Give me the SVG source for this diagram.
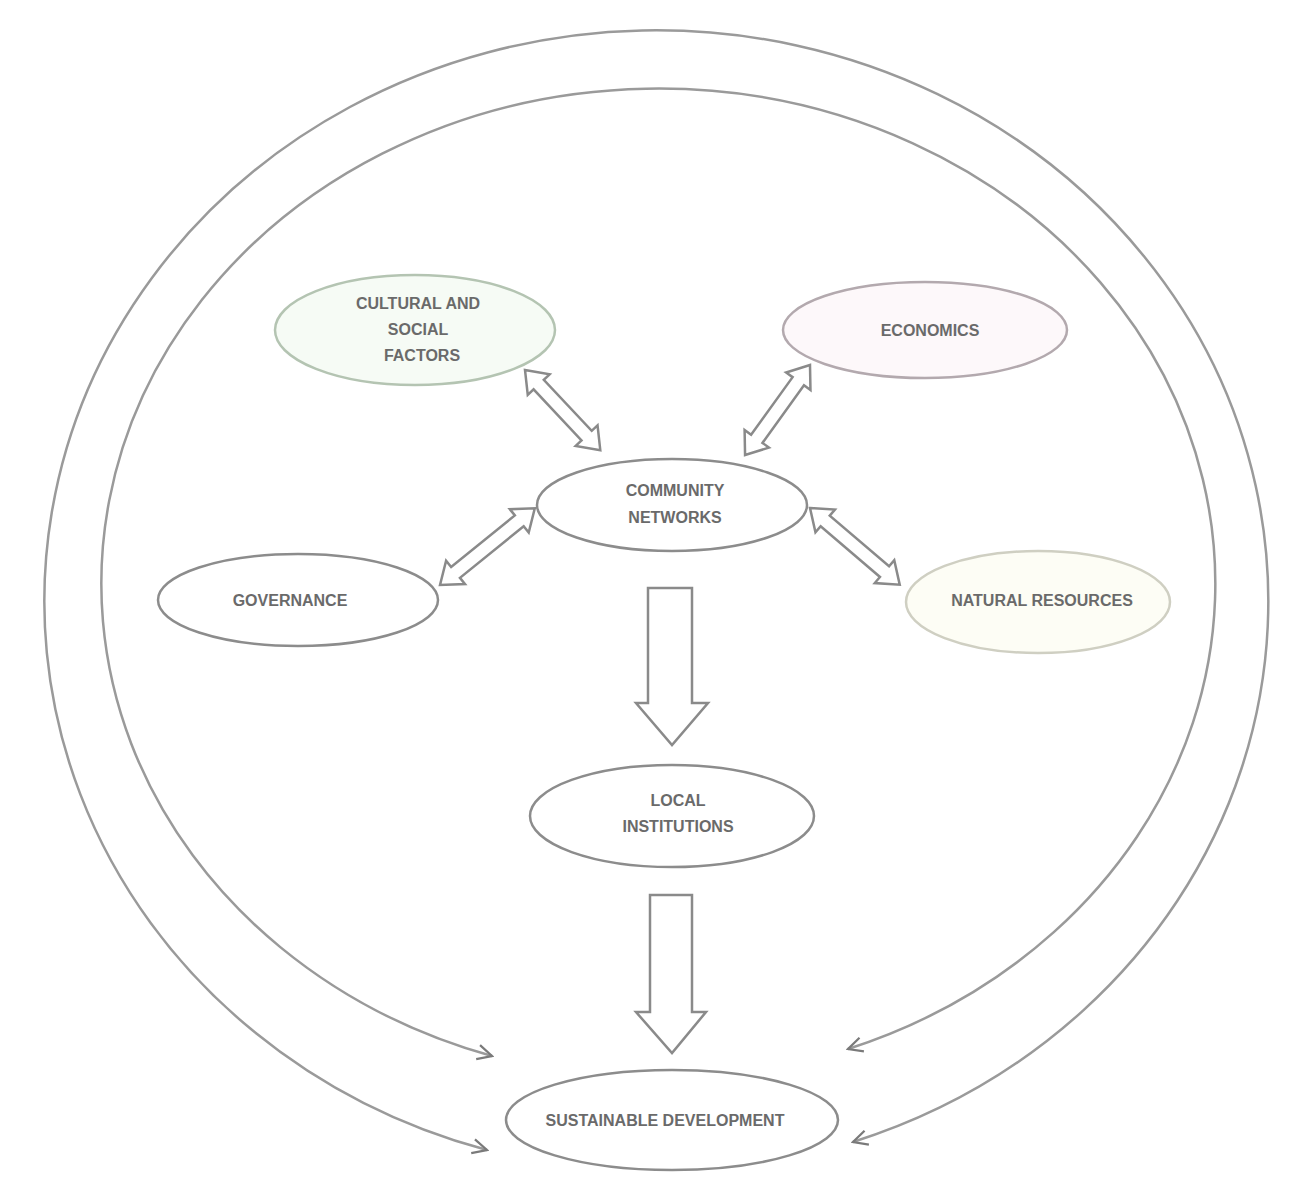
<svg xmlns="http://www.w3.org/2000/svg" width="1302" height="1189" viewBox="0 0 1302 1189">
<style>
.node{fill:#fff;stroke:#8c8c8c;stroke-width:2.5}
.lbl{font-family:"Liberation Sans",Arial,sans-serif;font-size:16px;font-weight:bold;fill:#6a6a6a;text-anchor:middle}
.ring{fill:none;stroke:#9a9a9a;stroke-width:2.5}
.block{fill:#fff;stroke:#8a8a8a;stroke-width:2.5;stroke-linejoin:miter}
</style>
<defs>
<marker id="open" viewBox="0 0 20 20" refX="18" refY="10" markerWidth="18" markerHeight="18" markerUnits="userSpaceOnUse" orient="auto-start-reverse">
<path d="M2,2 L18,10 L2,18" fill="none" stroke="#7a7a7a" stroke-width="2.5"/>
</marker>
</defs>
<rect width="1302" height="1189" fill="#fff"/>
<g id="connectors">
<path class="ring" d="M 487 1150 A 612 571 0 1 1 853 1142" marker-start="url(#open)" marker-end="url(#open)"/>
<path class="ring" d="M 492 1056 A 557 495 0 1 1 848 1049" marker-start="url(#open)" marker-end="url(#open)"/>
<polygon class="block" points="648,588 692,588 692,703 708,703 672,745 636,703 648,703"/>
<polygon class="block" points="650,895 692,895 692,1012 706,1012 672,1053 636,1012 650,1012"/>
<polygon class="block" transform="translate(525,370) rotate(46.8)" points="0,0 20,-15 20,-7 90,-7 90,-15 110,0 90,15 90,7 20,7 20,15"/>
<polygon class="block" transform="translate(810,365) rotate(125.8)" points="0,0 20,-15 20,-7 91,-7 91,-15 111,0 91,15 91,7 20,7 20,15"/>
<polygon class="block" transform="translate(440,585) rotate(-39)" points="0,0 20,-15 20,-7 102,-7 102,-15 122,0 102,15 102,7 20,7 20,15"/>
<polygon class="block" transform="translate(810,508) rotate(40.5)" points="0,0 20,-15 20,-7 98,-7 98,-15 118,0 98,15 98,7 20,7 20,15"/>
</g>
<g id="node-topleft">
<ellipse cx="415" cy="330" rx="140" ry="55" class="node" style="fill:#f6fbf5;stroke:#b4c4b2"/>
<text class="lbl" x="418" y="309">CULTURAL AND</text>
<text class="lbl" x="418" y="335">SOCIAL</text>
<text class="lbl" x="422" y="361">FACTORS</text>
</g>
<g id="node-topright">
<ellipse cx="925" cy="330" rx="142" ry="48" class="node" style="fill:#fdf8fa;stroke:#b3a9ae"/>
<text class="lbl" x="930" y="336">ECONOMICS</text>
</g>
<g id="node-center">
<ellipse cx="672" cy="505" rx="135" ry="46" class="node"/>
<text class="lbl" x="675" y="496">COMMUNITY</text>
<text class="lbl" x="675" y="523">NETWORKS</text>
</g>
<g id="node-left">
<ellipse cx="298" cy="600" rx="140" ry="46" class="node"/>
<text class="lbl" x="290" y="606">GOVERNANCE</text>
</g>
<g id="node-right">
<ellipse cx="1038" cy="602" rx="132" ry="51" class="node" style="fill:#fdfdf5;stroke:#cfcfc2"/>
<text class="lbl" x="1042" y="606">NATURAL RESOURCES</text>
</g>
<g id="node-middle">
<ellipse cx="672" cy="816" rx="142" ry="51" class="node"/>
<text class="lbl" x="678" y="806">LOCAL</text>
<text class="lbl" x="678" y="832">INSTITUTIONS</text>
</g>
<g id="node-bottom">
<ellipse cx="672" cy="1120" rx="166" ry="50" class="node"/>
<text class="lbl" x="665" y="1126">SUSTAINABLE DEVELOPMENT</text>
</g>
</svg>
